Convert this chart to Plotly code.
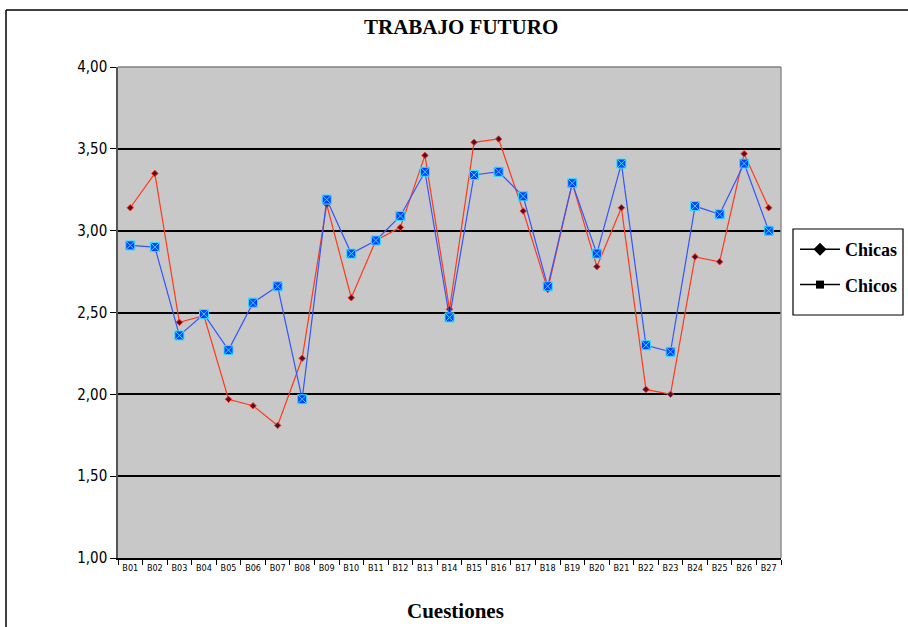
import plotly.graph_objects as go

categories = ["B%02d" % i for i in range(1, 28)]
chicas = [3.14, 3.35, 2.44, 2.48, 1.97, 1.93, 1.81, 2.22, 3.16, 2.59, 2.94, 3.02, 3.46, 2.52,
          3.54, 3.56, 3.12, 2.64, 3.29, 2.78, 3.14, 2.03, 2.00, 2.84, 2.81, 3.47, 3.14]
chicos = [2.91, 2.90, 2.36, 2.49, 2.27, 2.56, 2.66, 1.97, 3.19, 2.86, 2.94, 3.09, 3.36, 2.47,
          3.34, 3.36, 3.21, 2.66, 3.29, 2.86, 3.41, 2.30, 2.26, 3.15, 3.10, 3.41, 3.00]
y_ticks = [1.0, 1.5, 2.0, 2.5, 3.0, 3.5, 4.0]
y_ticklabels = ["1,00", "1,50", "2,00", "2,50", "3,00", "3,50", "4,00"]

W, H = 908, 627
L, R, T, B = 118, 781, 67, 558

def px(x):
    return (x - L) / (R - L)

def py(y):
    return (B - y) / (B - T)

NARROW = "DejaVu Sans Condensed, Liberation Sans Narrow, Arial Narrow, sans-serif"
SERIF = "Liberation Serif, Times New Roman, serif"

fig = go.Figure()
fig.add_trace(go.Scatter(
    x=categories, y=chicas, mode="lines+markers", showlegend=False,
    line=dict(color="#FF3A1A", width=1.2),
    marker=dict(symbol="diamond", size=5, color="#5A0A2A", line=dict(color="#FF3A1A", width=1)),
))
fig.add_trace(go.Scatter(
    x=categories, y=chicos, mode="lines+markers", showlegend=False,
    line=dict(color="#3355FF", width=1.2),
    marker=dict(symbol="square-x", size=9, color="#0044FF", line=dict(color="#33DDFF", width=1)),
))
# legend-only entries (black, as in the reference legend)
fig.add_trace(go.Scatter(
    x=[None], y=[None], mode="lines+markers", name="<b>Chicas</b>", legendgroup="a",
    line=dict(color="black", width=1.5), marker=dict(symbol="diamond", size=10, color="black"),
))
fig.add_trace(go.Scatter(
    x=[None], y=[None], mode="lines+markers", name="<b>Chicos</b>", legendgroup="b",
    line=dict(color="black", width=1.5), marker=dict(symbol="square", size=8, color="black"),
))

shapes = [
    dict(type="line", xref="paper", yref="paper", x0=0, x1=1, y0=1, y1=1,
         line=dict(color="#808080", width=1.5)),
    dict(type="line", xref="paper", yref="paper", x0=1, x1=1, y0=0, y1=1,
         line=dict(color="#909090", width=1.5)),
    dict(type="line", xref="paper", yref="paper", x0=px(6), x1=px(910), y0=py(10), y1=py(10),
         line=dict(color="black", width=1.5)),
    dict(type="line", xref="paper", yref="paper", x0=px(6), x1=px(6), y0=py(10), y1=py(630),
         line=dict(color="black", width=1.5)),
    # legend frame
    dict(type="rect", xref="paper", yref="paper", x0=px(793), x1=px(903), y0=py(315), y1=py(229),
         fillcolor="white", line=dict(color="black", width=1.2)),
]

fig.update_layout(
    width=W, height=H,
    margin=dict(l=L, r=W - R, t=T, b=H - B, autoexpand=False),
    paper_bgcolor="white",
    plot_bgcolor="#C8C8C8",
    showlegend=True,
    legend=dict(
        x=px(795), y=py(231), xanchor="left", yanchor="top",
        bgcolor="rgba(0,0,0,0)", borderwidth=0,
        font=dict(family=SERIF, size=18, color="black"),
        tracegroupgap=9, itemwidth=40,
    ),
    annotations=[
        dict(text="<b>TRABAJO FUTURO</b>", xref="paper", yref="paper", x=px(461), y=py(27),
             xanchor="center", yanchor="middle", showarrow=False,
             font=dict(family=SERIF, size=21, color="black")),
        dict(text="<b>Cuestiones</b>", xref="paper", yref="paper", x=px(455), y=py(611),
             xanchor="center", yanchor="middle", showarrow=False,
             font=dict(family=SERIF, size=21, color="black")),
    ],
    shapes=shapes,
    xaxis=dict(
        type="category", categoryorder="array", categoryarray=categories,
        range=[-0.5, 26.5], tickson="boundaries", tickangle=0, automargin=False,
        ticks="outside", ticklen=5, tickcolor="black", tickwidth=1,
        showline=True, linecolor="black", linewidth=1.5,
        showgrid=False, zeroline=False,
        tickfont=dict(family=NARROW, size=9, color="black"),
    ),
    yaxis=dict(
        range=[1.0, 4.0], tickvals=y_ticks, ticktext=y_ticklabels, automargin=False,
        ticks="outside", ticklen=6, tickcolor="black", tickwidth=1,
        showline=True, linecolor="#555555", linewidth=1.5,
        showgrid=True, gridcolor="black", gridwidth=1.5, zeroline=False,
        tickfont=dict(family=NARROW, size=15, color="black"),
    ),
)

fig.write_html("out.html", config={"displayModeBar": False},
               post_script="document.body.style.margin='0';document.body.style.padding='0';")
